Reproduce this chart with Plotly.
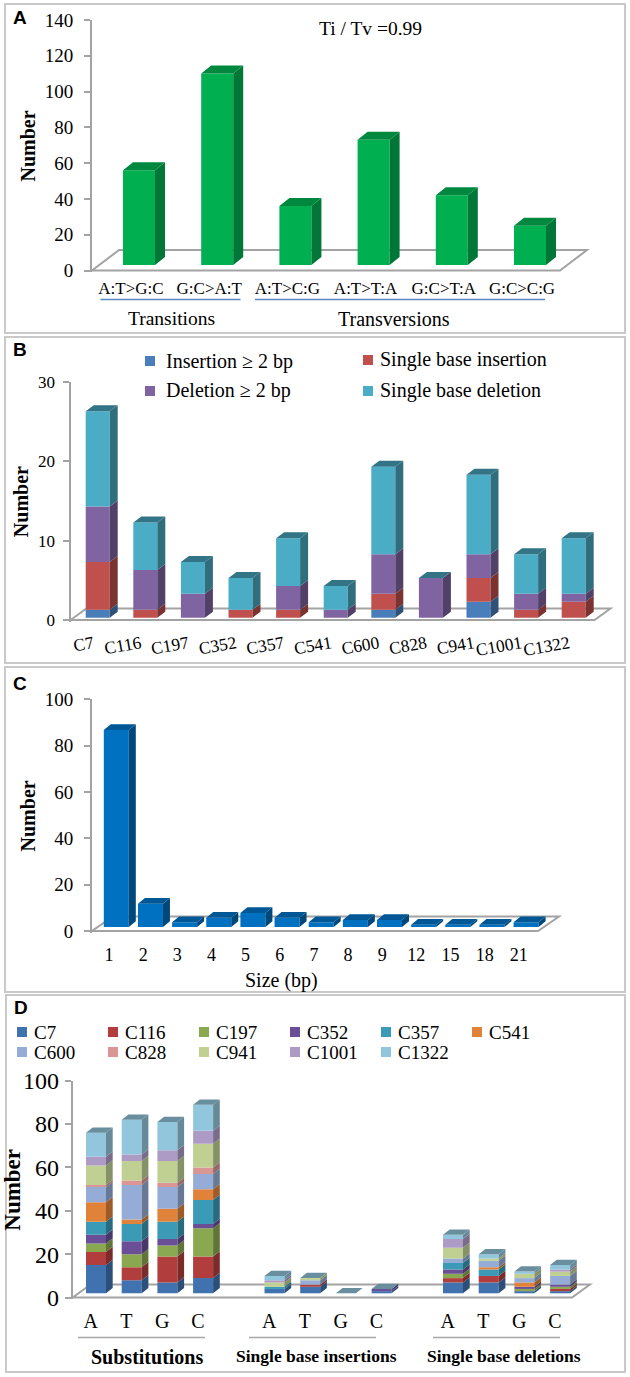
import plotly.graph_objects as go

W, H = 630, 1377
SERIF = "Liberation Serif"
SANS = "Liberation Sans"
GREY = "#a3a3a3"
INK = "#000000"

# ---------- data ----------
a_labels = ["A:T>G:C", "G:C>A:T", "A:T>C:G", "A:T>T:A", "G:C>T:A", "G:C>C:G"]
a_number = [53, 107, 33, 70, 39, 22]

b_labels = ["C7", "C116", "C197", "C352", "C357", "C541", "C600", "C828", "C941", "C1001", "C1322"]
b_insertion_long = [1, 0, 0, 0, 0, 0, 1, 0, 2, 0, 0]
b_insertion_single = [6, 1, 0, 1, 1, 0, 2, 0, 3, 1, 2]
b_deletion_long = [7, 5, 3, 0, 3, 1, 5, 5, 3, 2, 1]
b_deletion_single = [12, 6, 4, 4, 6, 3, 11, 0, 10, 5, 7]

c_labels = ["1", "2", "3", "4", "5", "6", "7", "8", "9", "12", "15", "18", "21"]
c_number = [85, 10, 2, 4, 6, 4, 2, 3, 3, 1, 1, 1, 2]

d_labels = ["A", "T", "G", "C"]
d_positions = [0, 1, 2, 3, 5, 6, 7, 8, 10, 11, 12, 13]
#        substitutions A,T,G,C | insertions A,T,G,C | deletions A,T,G,C
d_C7 = [13, 6, 5, 7, 2, 3, 0, 1, 5, 5, 1, 1]
d_C116 = [6, 6, 12, 10, 0, 1, 0, 0, 2, 3, 0, 1]
d_C197 = [4, 6, 5, 13, 0, 0, 0, 0, 2, 0, 1, 1]
d_C352 = [4, 6, 3, 2, 0, 0, 0, 1, 2, 0, 1, 1]
d_C357 = [6, 8, 8, 11, 1, 0, 0, 0, 3, 3, 0, 0]
d_C541 = [9, 2, 6, 5, 0, 0, 0, 0, 0, 1, 2, 0]
d_C600 = [7, 16, 10, 7, 0, 2, 0, 0, 2, 3, 2, 4]
d_C828 = [1, 2, 2, 3, 0, 0, 0, 0, 0, 0, 0, 0]
d_C941 = [9, 9, 10, 11, 2, 1, 0, 0, 5, 1, 2, 2]
d_C1001 = [4, 3, 5, 6, 1, 0, 0, 0, 4, 0, 0, 1]
d_C1322 = [11, 16, 13, 12, 2, 0, 0, 0, 2, 2, 1, 2]


# ---------- helpers ----------
def shade(color, f):
    r, g, b = (int(color[i:i + 2], 16) for i in (1, 3, 5))
    return "#%02x%02x%02x" % (int(r * f), int(g * f), int(b * f))


fig = go.Figure()
shapes, annotations, layout_axes = [], [], {}


def text(x, y, s, size, bold=False, family=SERIF, anchor="center", angle=0):
    annotations.append(dict(
        x=x / W, y=1 - y / H, xref="paper", yref="paper", text=s, showarrow=False,
        xanchor=anchor, yanchor="middle", textangle=angle,
        font=dict(family=family, size=size, color=INK, weight=700 if bold else 400)))


def frame(x0, y0, x1, y1):
    shapes.append(dict(type="rect", xref="paper", yref="paper",
                       x0=x0 / W, x1=x1 / W, y0=1 - y0 / H, y1=1 - y1 / H,
                       line=dict(color="#c9c9c9", width=2), layer="below"))


def rule(x0, x1, y, color):
    shapes.append(dict(type="line", xref="paper", yref="paper",
                       x0=x0 / W, x1=x1 / W, y0=1 - y / H, y1=1 - y / H,
                       line=dict(color=color, width=1.5)))


def key(x, y, color):
    shapes.append(dict(type="rect", xref="paper", yref="paper",
                       x0=x / W, x1=(x + 10) / W, y0=1 - (y - 5) / H, y1=1 - (y + 5) / H,
                       line=dict(width=0), fillcolor=color))


def panel(n, positions, ticktext, series, ymax, dtick, geo, fonts, top_f, side_f, title_standoff, tick_standoff,
          tickangle=0):
    """series: list of (name, values, colour). geo holds pixel layout of the panel."""
    sx = "" if n == 1 else str(n)
    xref, yref = "x" + sx, "y" + sx
    px_u = (geo["y0"] - geo["ytop"]) / ymax
    pitch = geo["pitch"]
    pad = 1.5 / px_u
    xr = [(geo["left"] - geo["tick0"]) / pitch, (geo["right"] - geo["tick0"]) / pitch]
    shift = (geo["bar0"] + geo["barw"] / 2 - geo["tick0"]) / pitch
    w = geo["barw"] / pitch
    lift = (geo["y0"] - geo["base"]) / px_u
    dx, dy = geo["sx"] / pitch, geo["sy"] / px_u

    layout_axes["xaxis" + sx] = dict(
        domain=[geo["left"] / W, geo["right"] / W], range=xr, anchor=yref, showgrid=False, zeroline=False,
        automargin=False, showline=False, ticks="", tickmode="array", tickvals=positions, ticktext=ticktext,
        tickangle=tickangle, ticklabelstandoff=tick_standoff,
        tickfont=dict(family=SERIF, size=fonts["x"], color=INK))
    layout_axes["yaxis" + sx] = dict(
        domain=[1 - (geo["y0"] + 1.5) / H, 1 - geo["ytop"] / H], range=[-pad, ymax], anchor=xref, showgrid=False,
        automargin=False,
        zeroline=False, showline=True, linecolor=GREY, linewidth=2, ticks="outside", ticklen=6, tickcolor=GREY,
        tickwidth=2, tickmode="array", tickvals=list(range(0, ymax + 1, dtick)), ticklabelstandoff=geo.get("ystand", 5),
        tickfont=dict(family=SERIF, size=fonts["y"], color=INK),
        title=dict(text="<b>Number</b>", standoff=title_standoff,
                   font=dict(family=SERIF, size=fonts["title"], color=INK)))

    # floor of the 3-D box, behind the bars
    fx0, fx1 = (geo["left"] - geo["tick0"]) / pitch, (geo["fright"] - geo["tick0"]) / pitch
    fdx, fdy = geo["fx"] / pitch, geo["fy"] / px_u
    path = f"M {fx0} 0 L {fx1} 0 L {fx1 + fdx} {fdy} L {fx0 + fdx} {fdy} Z"
    shapes.append(dict(type="path", xref=xref, yref=yref, path=path, layer="below",
                       line=dict(color=GREY, width=2)))

    totals = [lift] * len(positions)
    for name, values, color in series:
        fig.add_trace(go.Bar(x=[p + shift for p in positions], y=values, base=totals, width=w, name=name,
                             marker=dict(color=color, line=dict(width=0)), xaxis=xref, yaxis=yref,
                             showlegend=False, hovertemplate=name + ": %{y}<extra></extra>"))
        xs, ys = [], []
        for p, b, v in zip(positions, totals, values):
            if v:
                xr_ = p + shift + w / 2
                xs += [xr_, xr_ + dx, xr_ + dx, xr_, None]
                ys += [b, b + dy, b + v + dy, b + v, None]
        fig.add_trace(go.Scatter(x=xs, y=ys, mode="lines", fill="toself", fillcolor=shade(color, side_f),
                                 line=dict(width=0), xaxis=xref, yaxis=yref, showlegend=False, hoverinfo="skip"))
        totals = [b + v for b, v in zip(totals, values)]
    xs, ys = [], []
    for p, t in zip(positions, totals):
        xl, xr_ = p + shift - w / 2, p + shift + w / 2
        xs += [xl, xr_, xr_ + dx, xl + dx, None]
        ys += [t, t, t + dy, t + dy, None]
    fig.add_trace(go.Scatter(x=xs, y=ys, mode="lines", fill="toself", fillcolor=shade(series[-1][2], top_f),
                             line=dict(width=0), xaxis=xref, yaxis=yref, showlegend=False, hoverinfo="skip"))


# ---------- panel A ----------
frame(5, 4, 625, 333)
panel(1, list(range(6)), a_labels, [("Number", a_number, "#00b050")], 140, 20,
      dict(left=92, right=600, y0=270.5, ytop=20, pitch=78.2, tick0=131, bar0=123, barw=32, base=265, sx=10, sy=8,
           fright=560, fx=27, fy=20.5, ystand=7),
      dict(x=17, y=19, title=20), 0.78, 0.68, 4, 4)
text(370.5, 28, "Ti / Tv =0.99", 19.5)
text(171, 318, "Transitions", 19.5)
text(394, 319, "Transversions", 20)
rule(100.5, 240.5, 299.5, "#5b86c4")
rule(255, 545, 299.5, "#5b86c4")
text(20, 17, "A", 19, True, SANS)

# ---------- panel B ----------
frame(5, 337, 625, 663)
panel(2, list(range(11)), b_labels,
      [("Insertion ≥ 2 bp", b_insertion_long, "#4a7ebb"), ("Single base insertion", b_insertion_single, "#c0504d"),
       ("Deletion ≥ 2 bp", b_deletion_long, "#8064a2"), ("Single base deletion", b_deletion_single, "#4bacc6")],
      30, 10,
      dict(left=70.5, right=620, y0=620, ytop=381.7, pitch=47.6, tick0=93, bar0=85.7, barw=24, base=617.7, sx=8, sy=6,
           fright=594.5, fx=16, fy=11.5, ystand=4),
      dict(x=17.5, y=17, title=20), 0.68, 0.64, 4, 8, tickangle=-10)
for x, y, color, label in [(145, 361, "#4a7ebb", "Insertion ≥ 2 bp"), (363, 360, "#c0504d", "Single base insertion"),
                           (145, 391, "#8064a2", "Deletion ≥ 2 bp"), (363, 391, "#4bacc6", "Single base deletion")]:
    key(x, y, color)
    text(x + 18.5 if x == 145 else x + 15, y, label, 20, anchor="left")
text(20, 350, "B", 19, True, SANS)

# ---------- panel C ----------
frame(5, 667, 625, 992)
panel(3, list(range(13)), c_labels, [("Number", c_number, "#0070c0")], 100, 20,
      dict(left=92, right=570, y0=931, ytop=699.3, pitch=34.15, tick0=109, bar0=103.8, barw=25, base=927, sx=7, sy=5.8,
           fright=538, fx=21, fy=14.5, ystand=7),
      dict(x=18, y=19, title=20), 0.78, 0.64, 4, 9)
text(281.5, 980, "Size (bp)", 20)
text(20, 683, "C", 19, True, SANS)

# ---------- panel D ----------
frame(6, 995, 625, 1372)
d_series = [("C7", d_C7, "#3f72ae"), ("C116", d_C116, "#b13e3c"), ("C197", d_C197, "#8aa84f"),
            ("C352", d_C352, "#6b4f96"), ("C357", d_C357, "#3b9ab5"), ("C541", d_C541, "#e0823a"),
            ("C600", d_C600, "#95add6"), ("C828", d_C828, "#d99694"), ("C941", d_C941, "#bfd092"),
            ("C1001", d_C1001, "#ad9bc6"), ("C1322", d_C1322, "#92c6dc")]
panel(4, d_positions, d_labels * 3, d_series, 100, 20,
      dict(left=72.7, right=600, y0=1297.5, ytop=1080.7, pitch=35.7, tick0=90.7, bar0=86, barw=20, base=1293.3, sx=6.7,
           sy=5.3, fright=572, fx=18, fy=13, ystand=1),
      dict(x=20, y=24, title=23), 0.72, 0.7, 2, 8)
key_x = [17, 108, 199, 290, 381, 472]
for i, (name, _, color) in enumerate(d_series):
    col, row = i % 6, i // 6
    key(key_x[col], 1032 + 20 * row, color)
    text(key_x[col] + 15, 1032 + 20 * row, name, 19, anchor="left")
for x0, x1 in [(78, 205), (249, 376), (433, 560)]:
    rule(x0, x1, 1337.5, "#a9a9a9")
text(147, 1356.5, "Substitutions", 20, True)
text(316.5, 1356, "Single base insertions", 17.5, True)
text(504, 1356, "Single base deletions", 17.5, True)
text(21, 1008, "D", 19, True, SANS)

fig.update_layout(width=W, height=H, margin=dict(l=0, r=0, t=0, b=0), autosize=False, barmode="overlay",
                  plot_bgcolor="rgba(0,0,0,0)", paper_bgcolor="white", showlegend=False, shapes=shapes,
                  annotations=annotations, **layout_axes)
fig.write_html("out.html", config={"displayModeBar": False},
               post_script="document.body.style.margin='0';document.body.style.overflow='hidden';")
